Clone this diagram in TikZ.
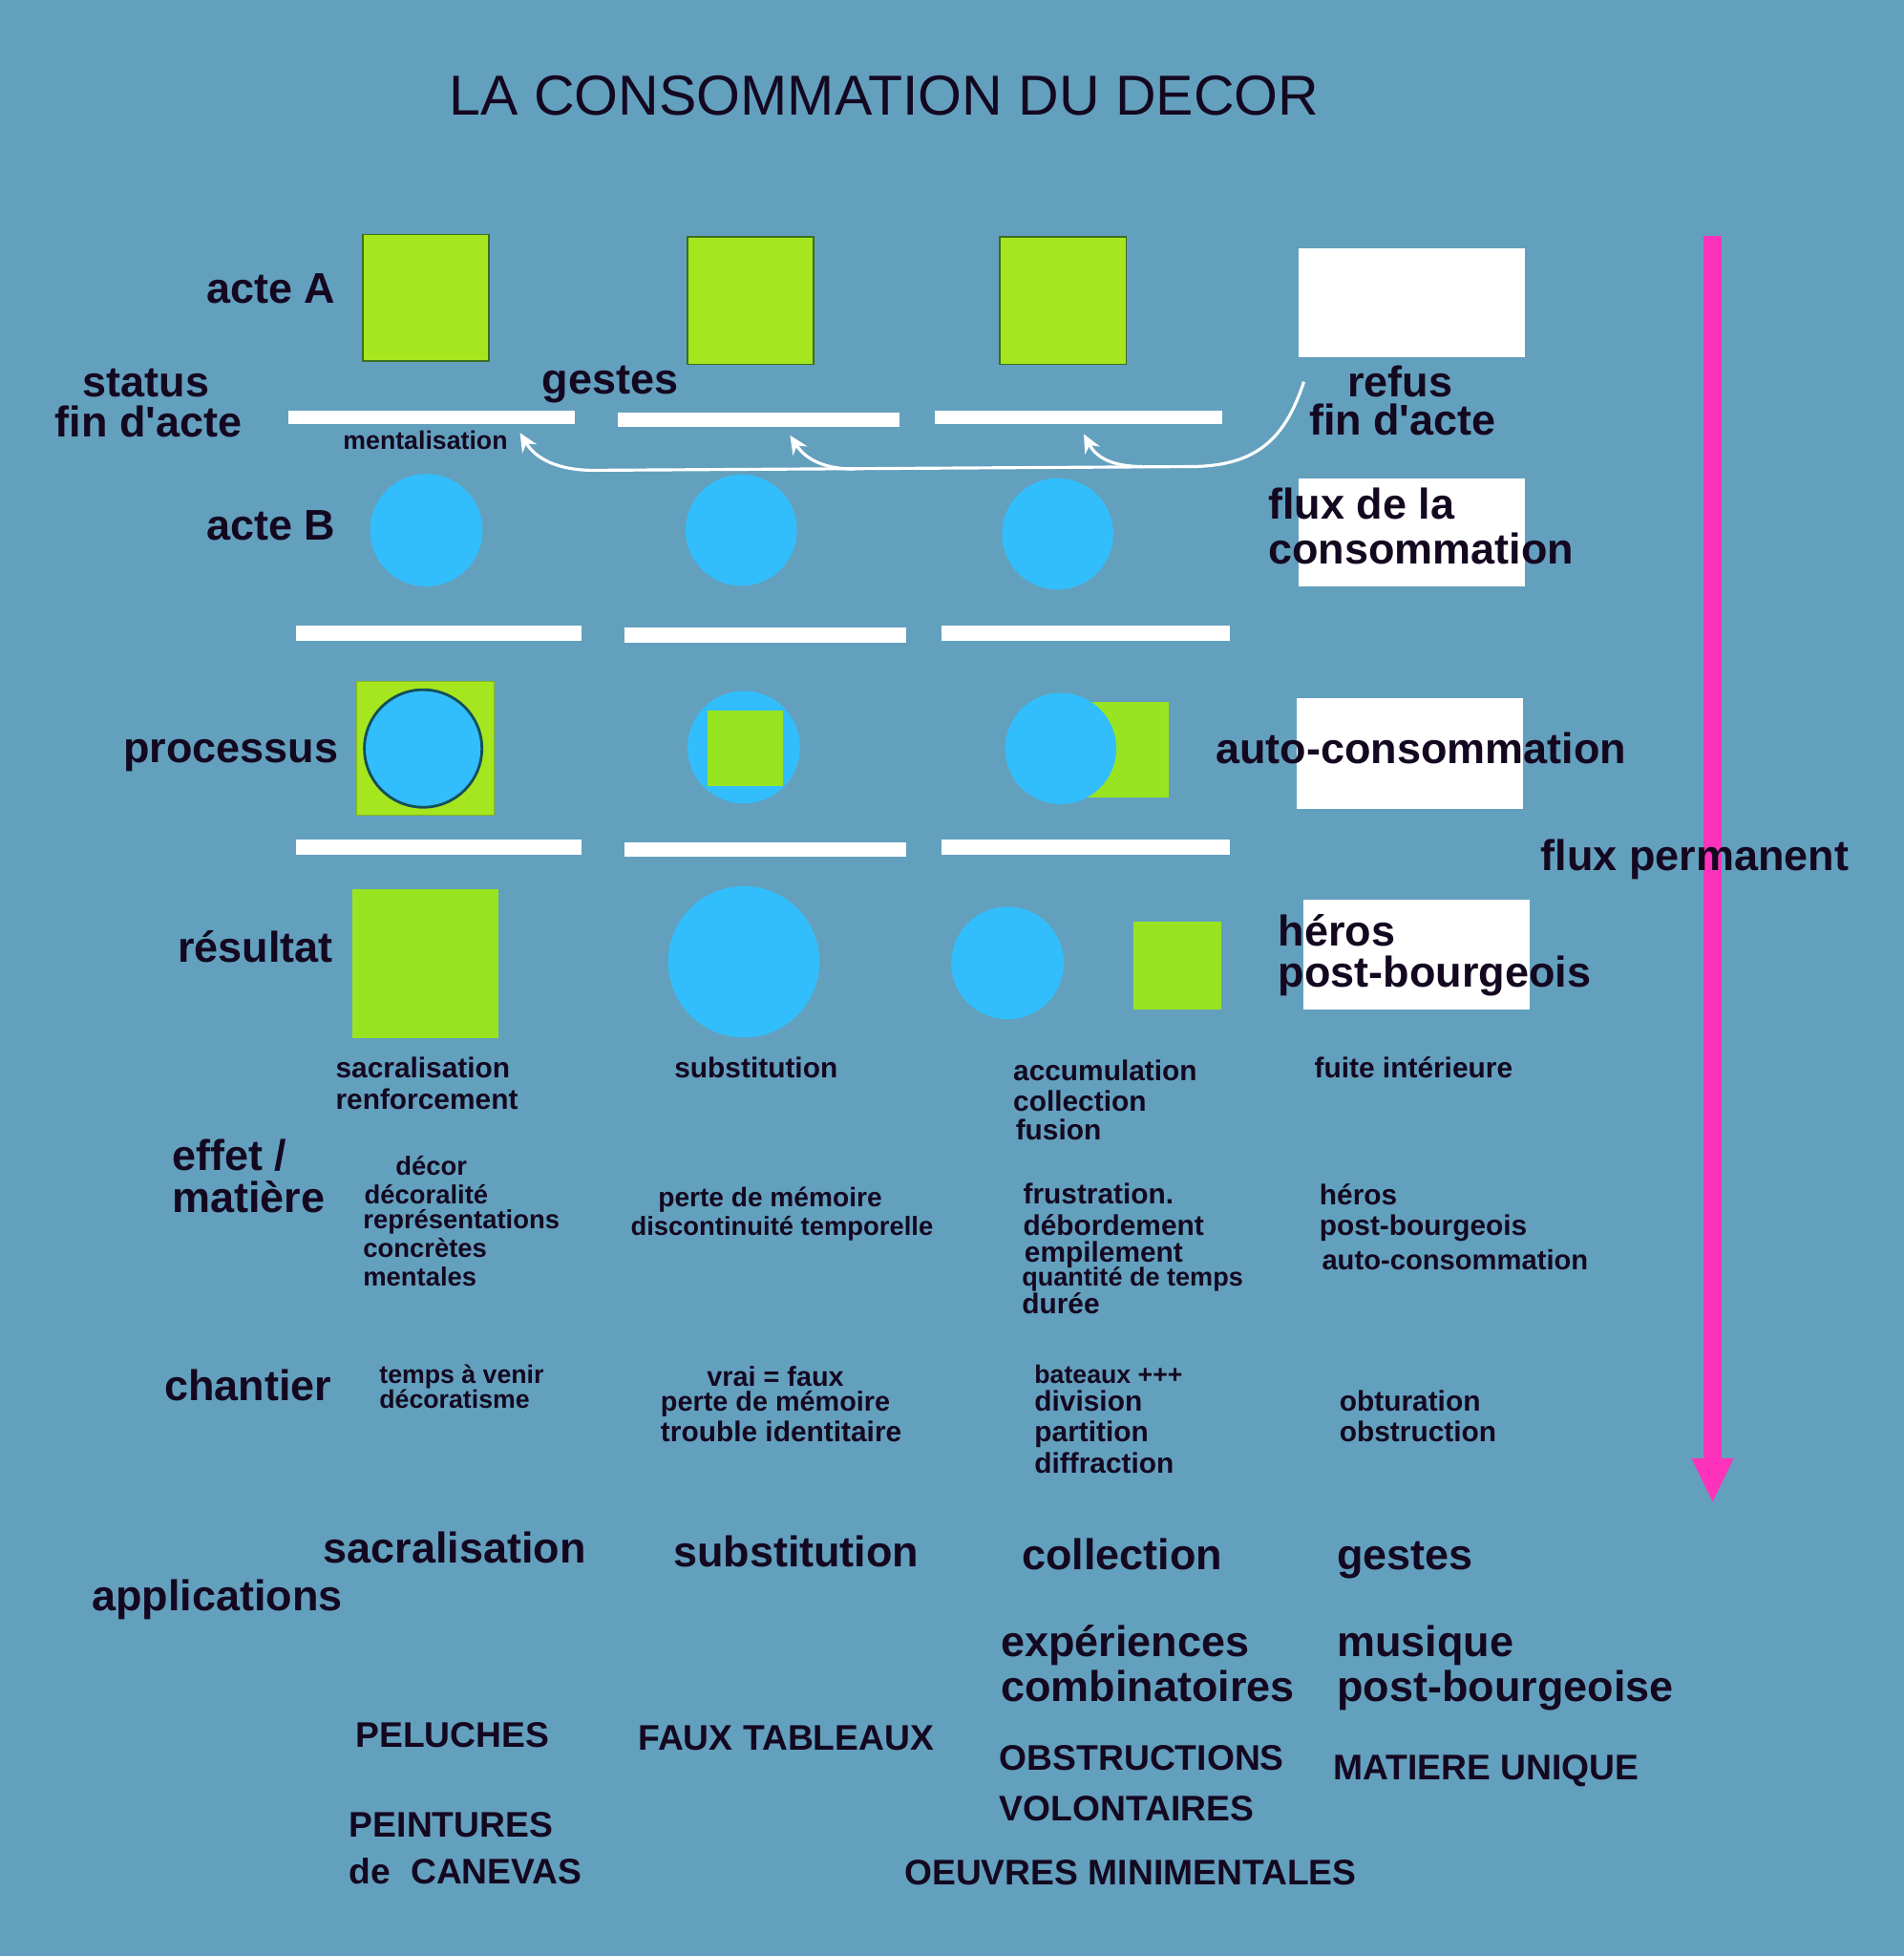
\documentclass[tikz,border=0pt]{standalone}
\usepackage{fontspec}
\setmainfont{Liberation Sans}[Ligatures=TeXOff]
\usetikzlibrary{arrows.meta}
\definecolor{bg}{RGB}{99,160,190}
\definecolor{grnA}{RGB}{166,230,30}
\definecolor{grnR}{RGB}{152,228,32}
\definecolor{dkgrn}{RGB}{60,110,30}
\definecolor{blu}{RGB}{50,190,252}
\definecolor{dkblu}{RGB}{20,80,90}
\definecolor{ink}{RGB}{20,8,32}
\definecolor{pnk}{RGB}{255,51,187}
\def\U{0.013093cm}
\tikzset{
  lbl/.style={font=\fontsize{12.8}{14}\selectfont\bfseries, text=ink, inner sep=0pt, anchor=base west},
  sm/.style={font=\fontsize{#1}{#1}\selectfont\bfseries, text=ink, inner sep=0pt, anchor=base west},
  sm/.default=8.5,
  capslbl/.style={font=\fontsize{10.6}{12}\selectfont\bfseries, text=ink, inner sep=0pt, anchor=base west},
  titlelbl/.style={font=\fontsize{16.8}{18}\selectfont, text=ink, inner sep=0pt, anchor=base west},
  gbox/.style={rectangle, fill=grnA, draw=dkgrn, line width=0.5pt, inner sep=0pt},
  rbox/.style={rectangle, fill=grnR, inner sep=0pt},
  wbox/.style={rectangle, fill=white, inner sep=0pt},
  bdot/.style={circle, fill=blu, inner sep=0pt},
  warrow/.style={draw=white, line width=0.9pt, -{Stealth[length=5.5pt,width=5pt]}},
  parrow/.style={draw=pnk, line width=5.6pt, -{Triangle[length=13.4pt,width=11.5pt]}}
}
\begin{document}
\begin{tikzpicture}[x={(0.013093cm,0)}, y={(0,-0.013061cm)}]
\useasboundingbox (0,0) rectangle (1523,1568);
\fill[bg] (0,0) rectangle (1523,1568);

% title
\node[titlelbl] (title) at (359,92) {LA CONSOMMATION DU DECOR};

% row A
\node[gbox, minimum width=101*\U, minimum height=101*\U] (a1) at (340.5,238.5) {};
\node[gbox, minimum width=101*\U, minimum height=102*\U] (a2) at (600.5,241) {};
\node[gbox, minimum width=101*\U, minimum height=102*\U] (a3) at (850.5,241) {};
\node[wbox, minimum width=181*\U, minimum height=87*\U] (aw) at (1129.5,242.5) {};

% bars 1
\node[wbox, minimum width=229*\U, minimum height=11*\U] (b11) at (345.5,334.5) {};
\node[wbox, minimum width=225*\U, minimum height=11*\U] (b12) at (607,336.5) {};
\node[wbox, minimum width=230*\U, minimum height=11*\U] (b13) at (862.5,334.5) {};

% row B
\node[bdot, minimum size=90*\U] (c1) at (341,425) {};
\node[bdot, minimum size=89*\U] (c2) at (593,425) {};
\node[bdot, minimum size=89*\U] (c3) at (846,428) {};
\node[wbox, minimum width=181*\U, minimum height=86*\U] (bw) at (1129.5,427) {};

% bars 2
\node[wbox, minimum width=229*\U, minimum height=12*\U] (b21) at (351,507.5) {};
\node[wbox, minimum width=225*\U, minimum height=12*\U] (b22) at (612,509) {};
\node[wbox, minimum width=231*\U, minimum height=12*\U] (b23) at (868.5,507.5) {};

% processus
\node[gbox, minimum width=110*\U, minimum height=107*\U, draw=grnA!80!black, line width=0.3pt] (p1g) at (340,600) {};
\node[bdot, minimum size=94*\U, draw=dkblu, line width=0.8pt] (p1c) at (338.5,600) {};
\node[bdot, minimum size=90*\U] (p2c) at (595,599) {};
\node[rbox, minimum width=60*\U, minimum height=60*\U] (p2g) at (596,600) {};
\node[rbox, minimum width=66*\U, minimum height=76*\U] (p3g) at (902,601) {};
\node[bdot, minimum size=89*\U] (p3c) at (848.5,600) {};
\node[wbox, minimum width=181*\U, minimum height=88*\U] (pw) at (1127.5,604) {};

% bars 3
\node[wbox, minimum width=229*\U, minimum height=12*\U] (b31) at (351,679) {};
\node[wbox, minimum width=225*\U, minimum height=12*\U] (b32) at (612,681) {};
\node[wbox, minimum width=231*\U, minimum height=12*\U] (b33) at (868.5,679) {};

% resultat
\node[rbox, minimum width=117*\U, minimum height=119*\U] (r1) at (340.5,772.5) {};
\node[bdot, minimum size=121*\U] (r2c) at (595,771) {};
\node[bdot, minimum size=90*\U] (r3c) at (806,772) {};
\node[rbox, minimum width=70*\U, minimum height=70*\U] (r3g) at (942,774) {};
\node[wbox, minimum width=181*\U, minimum height=88*\U] (rw) at (1133.5,765) {};

% white curved arrows
\coordinate (rs) at (1043,306);
\coordinate (m1) at (416,347);
\coordinate (m2) at (632,349);
\coordinate (m3) at (867,348);
\coordinate (j2) at (684,376);
\coordinate (j3) at (914,374);
\draw[warrow] (rs) .. controls (1028,352) and (1005,373) .. (955,374) -- (475,377) .. controls (445,377) and (428,367) .. (m1);
\draw[warrow] (j2) .. controls (656,376) and (643,366) .. (m2);
\draw[warrow] (j3) .. controls (887,374) and (876,365) .. (m3);

% pink arrow
\coordinate (ptop) at (1370,189);
\coordinate (pbot) at (1370,1205);
\draw[parrow] (ptop) -- (pbot);

% row labels
\node[lbl, anchor=base east] (lA) at (269,243) {acte A};
\node[lbl, anchor=base] (lst1) at (117,318) {status};
\node[lbl, anchor=base] (lst2) at (119,350) {fin d'acte};
\node[lbl] (lges) at (433,316) {gestes};
\node[sm=7.6] (lment) at (274,360) {mentalisation};
\node[lbl, anchor=base] (lref1) at (1120,318) {refus};
\node[lbl, anchor=base] (lref2) at (1122,349) {fin d'acte};
\node[lbl, anchor=base east] (lB) at (269,433) {acte B};
\node[lbl] (lflux1) at (1014,416) {flux de la};
\node[lbl] (lflux2) at (1014,452) {consommation};
\node[lbl, anchor=base east] (lproc) at (271,611) {processus};
\node[lbl] (lauto) at (972,612) {auto-consommation};
\node[lbl] (lperm) at (1232,698) {flux permanent};
\node[lbl, anchor=base east] (lres) at (267,771) {résultat};
\node[lbl] (lher1) at (1022,758) {héros};
\node[lbl] (lher2) at (1022,791) {post-bourgeois};

% first text row
\node[sm] (s11) at (268,864) {sacralisation};
\node[sm] (s12) at (268,889) {renforcement};
\node[sm] (s21) at (539,864) {substitution};
\node[sm] (s31) at (810,866) {accumulation};
\node[sm] (s32) at (810,891) {collection};
\node[sm] (s33) at (812,914) {fusion};
\node[sm] (s41) at (1051,864) {fuite intérieure};

% effet / matiere
\node[lbl] (leff1) at (137,938) {effet /};
\node[lbl] (leff2) at (137,972) {matière};
\node[sm=7.8] (e11) at (316,942) {décor};
\node[sm=7.8] (e12) at (291,965) {décoralité};
\node[sm=7.8] (e13) at (290,985) {représentations};
\node[sm=7.8] (e14) at (290,1008) {concrètes};
\node[sm=7.8] (e15) at (290,1031) {mentales};
\node[sm=8] (e21) at (526,967) {perte de mémoire};
\node[sm=7.8] (e22) at (504,990) {discontinuité temporelle};
\node[sm] (e31) at (818,965) {frustration.};
\node[sm] (e32) at (818,990) {débordement};
\node[sm] (e33) at (819,1012) {empilement};
\node[sm=7.7] (e34) at (817,1031) {quantité de temps};
\node[sm] (e35) at (817,1053) {durée};
\node[sm] (e41) at (1055,966) {héros};
\node[sm] (e42) at (1055,990) {post-bourgeois};
\node[sm=8.3] (e43) at (1057,1018) {auto-consommation};

% chantier
\node[lbl] (lch) at (131,1123) {chantier};
\node[sm=7.6] (h11) at (303,1109) {temps à venir};
\node[sm=7.6] (h12) at (303,1129) {décoratisme};
\node[sm=8.2] (h21) at (565,1111) {vrai = faux};
\node[sm=8.2] (h22) at (528,1131) {perte de mémoire};
\node[sm] (h23) at (528,1156) {trouble identitaire};
\node[sm=7.6] (h31) at (827,1109) {bateaux +++};
\node[sm] (h32) at (827,1131) {division};
\node[sm] (h33) at (827,1156) {partition};
\node[sm] (h34) at (827,1181) {diffraction};
\node[sm] (h41) at (1071,1131) {obturation};
\node[sm] (h42) at (1071,1156) {obstruction};

% applications
\node[lbl] (ap1) at (258,1253) {sacralisation};
\node[lbl] (ap2) at (538,1256) {substitution};
\node[lbl] (ap3) at (817,1258) {collection};
\node[lbl] (ap4) at (1069,1258) {gestes};
\node[lbl] (lapp) at (73,1291) {applications};
\node[lbl] (ap31) at (800,1328) {expériences};
\node[lbl] (ap32) at (800,1364) {combinatoires};
\node[lbl] (ap41) at (1069,1328) {musique};
\node[lbl] (ap42) at (1069,1364) {post-bourgeoise};

% caps
\node[capslbl] (k1) at (284,1401) {PELUCHES};
\node[capslbl] (k2) at (510,1403) {FAUX TABLEAUX};
\node[capslbl] (k3) at (799,1419) {OBSTRUCTIONS};
\node[capslbl] (k4) at (799,1460) {VOLONTAIRES};
\node[capslbl] (k5) at (1066,1427) {MATIERE UNIQUE};
\node[capslbl] (k6) at (279,1473) {PEINTURES};
\node[capslbl] (k7) at (279,1510) {de\ \ CANEVAS};
\node[capslbl] (k8) at (723,1511) {OEUVRES MINIMENTALES};
\end{tikzpicture}
\end{document}
